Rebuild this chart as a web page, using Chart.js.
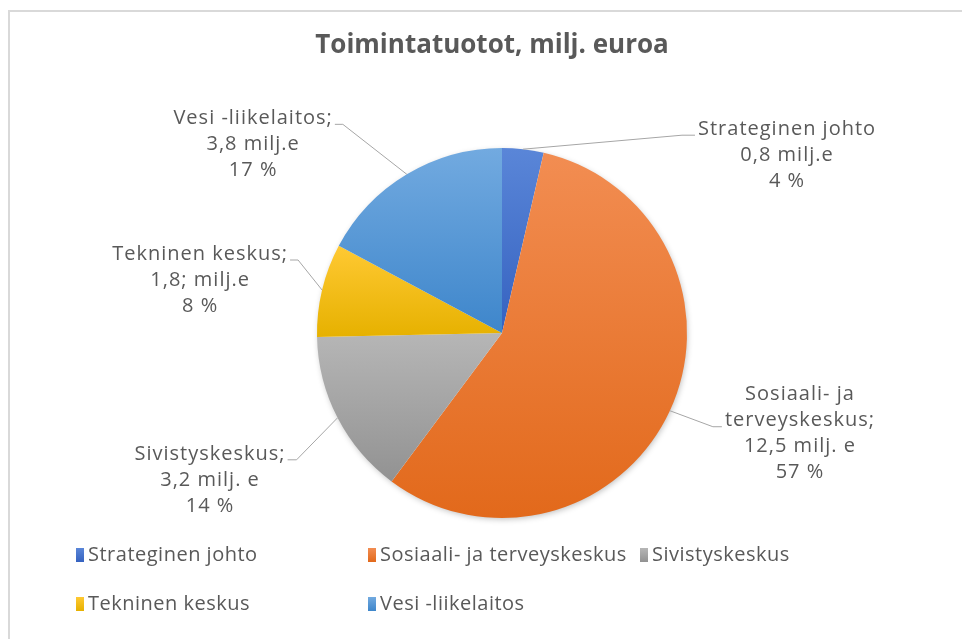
<!DOCTYPE html>
<html>
<head>
<meta charset="utf-8">
<script src="https://cdn.jsdelivr.net/npm/chart.js@4.4.1/dist/chart.umd.min.js"></script>
<style>
  html, body { margin: 0; padding: 0; background: #fff; overflow: hidden; }
  #wrap { position: relative; width: 962px; height: 639px; }
  #frame { position: absolute; left: 8px; top: 10px; width: 980px; height: 660px; border: 2px solid #d9d9d9; box-sizing: border-box; }
  canvas { position: absolute; left: 0; top: 0; }
</style>
</head>
<body>
<div id="wrap">
  <div id="frame"></div>
  <canvas id="myChart" width="962" height="639"></canvas>
</div>
<script>
const otsikko = 'Toimintatuotot, milj. euroa';
const yksikot = ['Strateginen johto', 'Sosiaali- ja terveyskeskus', 'Sivistyskeskus', 'Tekninen keskus', 'Vesi -liikelaitos'];
const tuotot = [0.8, 12.5, 3.2, 1.8, 3.8];
const nimiRivit = [['Strateginen johto'], ['Sosiaali- ja', 'terveyskeskus;'], ['Sivistyskeskus;'], ['Tekninen keskus;'], ['Vesi -liikelaitos;']];
const arvoTekstit = ['0,8 milj.e', '12,5 milj. e', '3,2 milj. e', '1,8; milj.e', '3,8 milj.e'];

// gradient colours: [top, bottom]
const varit = [
    ['#5a86d8', '#3562c0'],
    ['#f28d52', '#e2691b'],
    ['#b6b6b6', '#929292'],
    ['#ffc933', '#e6b100'],
    ['#72aae0', '#3e86cb']
];

// leader line layout: elbow offset from slice edge, tail length, which text row it attaches to
const selitePaikat = [
    { dx: 159, dy: -14, tail: 13, row: 0 },
    { dx: 43, dy: 16, tail: 9, row: 1 },
    { dx: -41, dy: 42, tail: -9, row: 0 },
    { dx: -24, dy: -30, tail: -8, row: 0 },
    { dx: -64, dy: -50, tail: -8, row: 0 }
];

const tekstiVari = '#595959';
const labelFont = '20px "Open Sans"';
const riviKorkeus = 26;

const canvas = document.querySelector('#myChart');

const summa = tuotot.reduce((a, b) => a + b, 0);

const sliceGradient = (context) => {
    const chart = context.chart;
    const area = chart.chartArea;
    const i = context.dataIndex;
    if (!area) return varit[i][0];
    const cx = (area.left + area.right) / 2;
    const cy = (area.top + area.bottom) / 2;
    const r = Math.min(area.width, area.height) / 2;
    let alku = 0;
    for (let k = 0; k < i; k++) alku += tuotot[k] / summa * Math.PI * 2;
    const loppu = alku + tuotot[i] / summa * Math.PI * 2;
    let ys = [cy, cy - r * Math.cos(alku), cy - r * Math.cos(loppu)];
    if (alku <= 0.0001) ys.push(cy - r);
    if (alku < Math.PI && loppu > Math.PI) ys.push(cy + r);
    const g = chart.ctx.createLinearGradient(0, Math.min(...ys), 0, Math.max(...ys));
    g.addColorStop(0, varit[i][0]);
    g.addColorStop(1, varit[i][1]);
    return g;
};

const varjo = {
    id: 'varjo',
    beforeDatasetsDraw(chart) {
        const arc = chart.getDatasetMeta(0).data[0];
        if (!arc) return;
        const ctx = chart.ctx;
        ctx.save();
        ctx.shadowColor = 'rgba(0,0,0,0.28)';
        ctx.shadowBlur = 6;
        ctx.shadowOffsetX = 1;
        ctx.shadowOffsetY = 2;
        ctx.fillStyle = '#ffffff';
        ctx.beginPath();
        ctx.arc(arc.x, arc.y, arc.outerRadius - 1, 0, Math.PI * 2);
        ctx.fill();
        ctx.restore();
    }
};

const selitteet = {
    id: 'selitteet',
    afterDatasetsDraw(chart) {
        const ctx = chart.ctx;
        const meta = chart.getDatasetMeta(0);
        ctx.save();
        ctx.font = labelFont;
        ctx.letterSpacing = '1px';
        ctx.textBaseline = 'middle';
        ctx.textAlign = 'center';
        meta.data.forEach((arc, i) => {
            const mid = (arc.startAngle + arc.endAngle) / 2;
            const ex = arc.x + Math.cos(mid) * arc.outerRadius;
            const ey = arc.y + Math.sin(mid) * arc.outerRadius;
            const p = selitePaikat[i];
            const kx = ex + p.dx;
            const ky = ey + p.dy;
            const hx = kx + p.tail;
            ctx.strokeStyle = '#a6a6a6';
            ctx.lineWidth = 1;
            ctx.beginPath();
            ctx.moveTo(ex, ey);
            ctx.lineTo(kx, ky);
            ctx.lineTo(hx, ky);
            ctx.stroke();

            const pros = Math.round(tuotot[i] / summa * 100) + ' %';
            const rivit = [...nimiRivit[i], arvoTekstit[i], pros];
            const w = ctx.measureText(rivit[p.row]).width;
            const keskiX = p.tail > 0 ? hx + 3 + w / 2 : hx - 2 - w / 2;
            const y0 = ky - 6 - p.row * riviKorkeus;
            ctx.fillStyle = tekstiVari;
            rivit.forEach((t, j) => ctx.fillText(t, keskiX, y0 + j * riviKorkeus));
        });
        ctx.restore();
    },
    afterDraw(chart) {
        const ctx = chart.ctx;
        ctx.save();
        // title
        ctx.font = 'bold 26px "Open Sans"';
        ctx.fillStyle = tekstiVari;
        ctx.textAlign = 'center';
        ctx.textBaseline = 'middle';
        ctx.fillText(otsikko, 492, 46);

        // legend
        const sarakkeet = [76, 368, 640];
        const rivitY = [555, 604];
        ctx.font = '20px "Open Sans"';
        ctx.letterSpacing = '0.5px';
        ctx.textAlign = 'left';
        yksikot.forEach((nimi, i) => {
            const x = sarakkeet[i % 3];
            const y = rivitY[Math.floor(i / 3)];
            const g = ctx.createLinearGradient(0, y - 7, 0, y + 7);
            g.addColorStop(0, varit[i][0]);
            g.addColorStop(1, varit[i][1]);
            ctx.fillStyle = g;
            ctx.fillRect(x, y - 7, 8, 14);
            ctx.fillStyle = tekstiVari;
            ctx.fillText(nimi, x + 12, y);
        });
        ctx.restore();
    }
};

const kaavio = new Chart(canvas, {
    type: 'pie',
    data: {
        labels: yksikot,
        datasets: [{
            data: tuotot,
            backgroundColor: sliceGradient,
            borderWidth: 0
        }]
    },
    options: {
        responsive: false,
        devicePixelRatio: 1,
        animation: false,
        layout: {
            padding: { left: 317, right: 275, top: 148, bottom: 121 }
        },
        plugins: {
            legend: { display: false },
            tooltip: { enabled: false }
        }
    },
    plugins: [varjo, selitteet]
});
</script>
</body>
</html>
